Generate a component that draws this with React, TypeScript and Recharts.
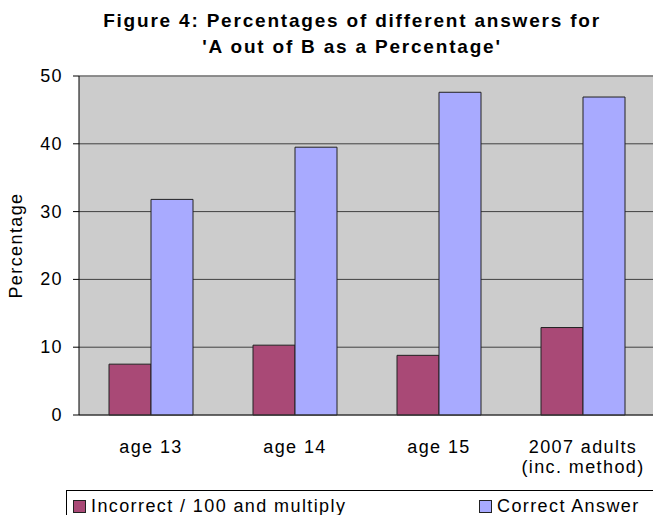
import React from 'react';
import { BarChart, Bar, XAxis, YAxis, CartesianGrid, ReferenceLine } from 'recharts';

const categories = ['age 13', 'age 14', 'age 15', '2007 adults\n(inc. method)'];
const incorrectValues = [7.5, 10.3, 8.8, 12.9];
const correctValues = [31.8, 39.5, 47.6, 46.9];
const yTicks = [0, 10, 20, 30, 40, 50];
const seriesNames = ['Incorrect / 100 and multiply', 'Correct Answer'];
const seriesColors = ['#A94976', '#A8AAFF'];
const edgeTicks = [0, 1, 2, 3, 4];

const data = categories.map((name, i) => ({
  name,
  incorrect: incorrectValues[i],
  correct: correctValues[i],
}));

const FONT = '"Liberation Sans", Arial, sans-serif';
const SPACING = '1.4px';

const CategoryTick = (props: any) => {
  const { x, y, payload } = props;
  const lines = String(payload.value).split('\n');
  return (
    <g>
      {lines.map((line, i) => (
        <text key={i} x={x} y={y + 30 + i * 20} textAnchor="middle" fontSize={18} fill="#000" fontFamily={FONT} style={{ letterSpacing: SPACING }}>
          {line}
        </text>
      ))}
    </g>
  );
};

const ValueTick = (props: any) => {
  const { x, y, payload } = props;
  return (
    <text x={x} y={y + 6} textAnchor="end" fontSize={18} fill="#000" fontFamily={FONT} style={{ letterSpacing: SPACING }}>
      {payload.value}
    </text>
  );
};

const App = () => {
  return (
    <div style={{ position: 'absolute', left: 0, top: 0, width: 653, height: 515, overflow: 'hidden', background: '#fff', fontFamily: FONT }}>
      {/* Title */}
      <div style={{ position: 'absolute', left: 0, top: 8, width: 704, textAlign: 'center', fontWeight: 'bold', fontSize: 19, lineHeight: '26px', letterSpacing: '1.8px', color: '#000' }}>
        Figure 4: Percentages of different answers for
        <br />
        'A out of B as a Percentage'
      </div>

      <div style={{ position: 'absolute', left: 0, top: 0 }}>
        <BarChart width={700} height={515} data={data} margin={{ top: 76, right: 45, left: 19, bottom: 40 }} barGap={0} barSize={42}>
          <CartesianGrid vertical={false} fill="#CCCCCC" stroke="#404040" fillOpacity={1} />
          <ReferenceLine y={50} stroke="#8a8a8a" strokeWidth={1.5} ifOverflow="extendDomain" />
          <XAxis
            xAxisId="edges"
            type="number"
            domain={[0, categories.length]}
            ticks={edgeTicks}
            height={0}
            tick={false}
            axisLine={false}
            tickLine={{ stroke: '#000' }}
            tickSize={6}
          />
          <XAxis
            dataKey="name"
            height={60}
            axisLine={{ stroke: '#333' }}
            tickLine={false}
            tick={<CategoryTick />}
            interval={0}
          />
          <YAxis
            domain={[0, 50]}
            ticks={yTicks}
            width={60}
            axisLine={{ stroke: '#000' }}
            tickLine={{ stroke: '#000' }}
            tickSize={6}
            tickMargin={10}
            tick={<ValueTick />}
            label={{ value: 'Percentage', angle: -90, position: 'insideLeft', offset: -3, style: { fontSize: 18, fill: '#000', fontFamily: FONT, textAnchor: 'middle', letterSpacing: SPACING } }}
          />
          <Bar dataKey="incorrect" name={seriesNames[0]} fill={seriesColors[0]} stroke="#222" strokeWidth={1} isAnimationActive={false} />
          <Bar dataKey="correct" name={seriesNames[1]} fill={seriesColors[1]} stroke="#222" strokeWidth={1} isAnimationActive={false} />
        </BarChart>
      </div>

      {/* Legend */}
      <div style={{ position: 'absolute', left: 66, top: 490, width: 700, height: 40, border: '1px solid #000', boxSizing: 'border-box' }}>
        {seriesNames.map((name, i) => (
          <div key={name} style={{ position: 'absolute', left: i === 0 ? 6 : 412, top: 5, display: 'flex', alignItems: 'center', fontSize: 18, letterSpacing: SPACING, color: '#000', whiteSpace: 'nowrap' }}>
            <span style={{ display: 'inline-block', width: 11, height: 11, background: seriesColors[i], border: '1px solid #222', marginRight: 5 }} />
            {name}
          </div>
        ))}
      </div>
    </div>
  );
};

export default App;
